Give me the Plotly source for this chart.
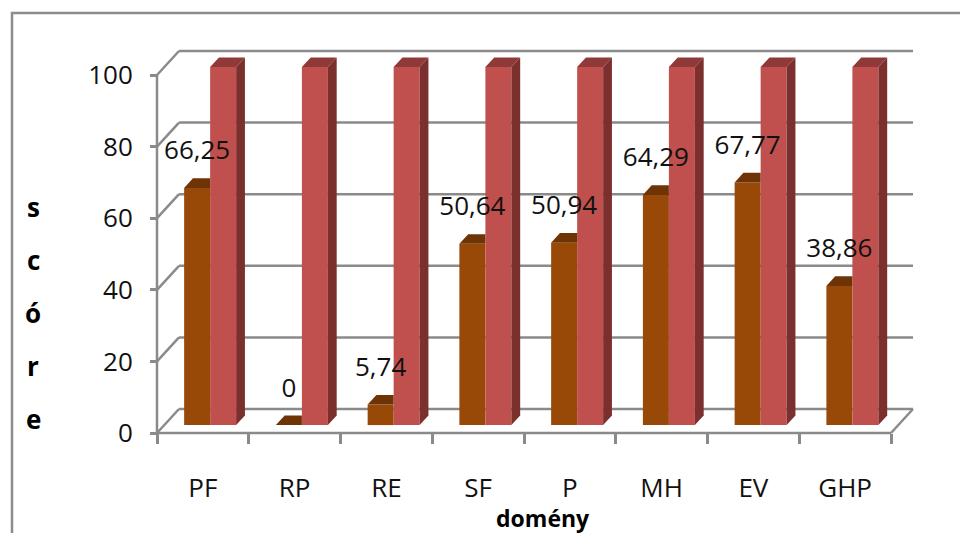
import plotly.graph_objects as go

# ---- data ----
categories = ["PF", "RP", "RE", "SF", "P", "MH", "EV", "GHP"]
scores = [66.25, 0, 5.74, 50.64, 50.94, 64.29, 67.77, 38.86]
reference = [100, 100, 100, 100, 100, 100, 100, 100]
score_labels = ["66,25", "0", "5,74", "50,64", "50,94", "64,29", "67,77", "38,86"]
y_ticks = [0, 20, 40, 60, 80, 100]
x_title = "domény"
y_title_letters = ["s", "c", "ó", "r", "e"]

# ---- pseudo-3D geometry (in axis units) ----
W, H = 960, 533
PX_X = 91.75          # px per category
PX_Y = 3.58           # px per value unit
X0_PX, Y0_PX = 157, 433
DX = 22 / PX_X        # wall depth (x)
DY = 24 / PX_Y        # wall depth (y)
F0 = 0.33             # bar front depth fraction
FB = 0.40             # bar depth fraction
BW = 26 / PX_X        # bar width
xl, xr = -0.5, len(categories) - 0.5

x_range = [-0.5 - X0_PX / PX_X, -0.5 + (W - X0_PX) / PX_X]
y_range = [-(H - Y0_PX) / PX_Y, Y0_PX / PX_Y]

GRID = "#8a8a8a"
ORANGE = "#984807"
ORANGE_TOP = "#6e3405"
RED = "#c0504d"
RED_TOP = "#8f3a38"
RED_SIDE = "#7c302e"
FONT = "Open Sans, sans-serif"

fig = go.Figure()

shift_x = F0 * DX
base = F0 * DY
ddx = FB * DX
ddy = FB * DY
centers = [i + shift_x for i in range(len(categories))]

# front faces (real bars)
fig.add_trace(go.Bar(x=centers, y=scores, base=[base] * len(scores), width=BW, offset=-BW,
                     marker=dict(color=ORANGE, line=dict(width=0)), name="score",
                     hoverinfo="skip"))
fig.add_trace(go.Bar(x=centers, y=reference, base=[base] * len(reference), width=BW, offset=0,
                     marker=dict(color=RED, line=dict(width=0)), name="max",
                     hoverinfo="skip"))

# top / side faces computed from the data
for c, v in zip(centers, scores):
    t = base + v
    xs = [c - BW, c, c, c - BW + ddx, c - BW]
    ys = [t, t, t + ddy, t + ddy, t]
    fig.add_trace(go.Scatter(x=xs, y=ys, fill="toself", fillcolor=ORANGE_TOP, mode="lines",
                             line=dict(width=0, color=ORANGE_TOP), showlegend=False, hoverinfo="skip"))
for c, v in zip(centers, reference):
    t = base + v
    xs = [c, c + BW, c + BW + ddx, c + ddx, c]
    ys = [t, t, t + ddy, t + ddy, t]
    fig.add_trace(go.Scatter(x=xs, y=ys, fill="toself", fillcolor=RED_TOP, mode="lines",
                             line=dict(width=0, color=RED_TOP), showlegend=False, hoverinfo="skip"))
    xs = [c + BW, c + BW + ddx, c + BW + ddx, c + BW, c + BW]
    ys = [base, base + ddy, t + ddy, t, base]
    fig.add_trace(go.Scatter(x=xs, y=ys, fill="toself", fillcolor=RED_SIDE, mode="lines",
                             line=dict(width=0, color=RED_SIDE), showlegend=False, hoverinfo="skip"))

# value labels (on the overlaying x2 axis, same range, so that axis gets drawn)
fig.add_trace(go.Scatter(x=[c - BW / 2 for c in centers], y=[base + v + 35 / PX_Y for v in scores],
                         xaxis="x2", yaxis="y",
                         mode="text", text=score_labels, textposition="middle center",
                         textfont=dict(family=FONT, size=26, color="#111111"),
                         showlegend=False, hoverinfo="skip", cliponaxis=False))

# walls / gridlines as shapes below traces
shapes = []
line = dict(color=GRID, width=2.5)
for v in y_ticks:
    shapes.append(dict(type="line", xref="x", yref="y", x0=xl + DX, x1=xr + DX, y0=v + DY, y1=v + DY,
                       line=line, layer="below"))
    shapes.append(dict(type="line", xref="x", yref="y", x0=xl, x1=xl + DX, y0=v, y1=v + DY,
                       line=line, layer="below"))
shapes.append(dict(type="line", xref="x", yref="y", x0=xl, x1=xr, y0=0, y1=0, line=line, layer="below"))
shapes.append(dict(type="line", xref="x", yref="y", x0=xr, x1=xr + DX, y0=0, y1=DY, line=line, layer="below"))
shapes.append(dict(type="line", xref="x", yref="y", x0=xl, x1=xl, y0=0, y1=y_ticks[-1], line=line, layer="below"))
# outer chart frame
shapes.append(dict(type="rect", xref="paper", yref="paper", x0=12 / W, x1=1.05, y0=1 - 13 / H, y1=-0.1,
                   line=dict(color="#8c8c8c", width=2.5), layer="below"))

annotations = [dict(x=543 / W, y=1 - 518 / H, xref="paper", yref="paper", text=x_title, showarrow=False,
                    xanchor="center", yanchor="middle",
                    font=dict(family=FONT, size=23, color="#000000", weight="bold"))]
for k, ch in enumerate(y_title_letters):
    annotations.append(dict(x=33 / W, y=1 - (207 + 53 * k) / H, xref="paper", yref="paper", text=ch,
                            showarrow=False, xanchor="center", yanchor="middle",
                            font=dict(family=FONT, size=26, color="#000000", weight="bold")))

fig.update_layout(
    width=W, height=H, margin=dict(l=0, r=0, t=0, b=0),
    paper_bgcolor="white", plot_bgcolor="white", showlegend=False, barmode="overlay",
    shapes=shapes, annotations=annotations,
    xaxis=dict(range=x_range, anchor="free", position=(H - Y0_PX) / H, showgrid=False, zeroline=False,
               tickmode="array", tickvals=[i - 0.5 for i in range(len(categories) + 1)], ticks="outside",
               ticklen=10, tickwidth=2.5, tickcolor=GRID, showticklabels=False, showline=False,
               automargin=False, fixedrange=True),
    xaxis2=dict(range=x_range, overlaying="x", anchor="free", position=(H - Y0_PX) / H, side="bottom",
                showgrid=False, zeroline=False, tickmode="array", tickvals=list(range(len(categories))),
                ticktext=categories, ticks="", ticklabelstandoff=37,
                tickfont=dict(family=FONT, size=26, color="#111111"), showline=False, automargin=False),
    yaxis=dict(range=y_range, anchor="free", position=X0_PX / W, showgrid=False, zeroline=False,
               tickmode="array", tickvals=y_ticks, ticktext=[str(v) for v in y_ticks], ticks="outside",
               ticklen=7, tickwidth=2.5, tickcolor=GRID, ticklabelstandoff=12,
               tickfont=dict(family=FONT, size=26, color="#111111"), showline=False, automargin=False),
)

fig.write_html("out.html")
